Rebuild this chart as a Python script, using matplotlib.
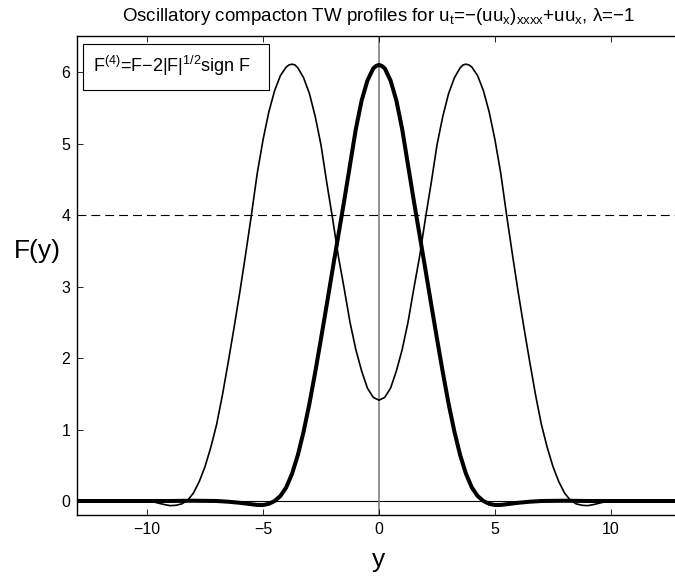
import numpy as np
import matplotlib
matplotlib.use("Agg")
import matplotlib.pyplot as plt
from matplotlib.patches import Rectangle

plt.rcParams['font.family'] = ['Liberation Sans', 'DejaVu Sans']
plt.rcParams['mathtext.fontset'] = 'custom'
plt.rcParams['mathtext.rm'] = 'Liberation Sans'
plt.rcParams['mathtext.it'] = 'Liberation Sans'
plt.rcParams['mathtext.default'] = 'regular'

# ---- data (right half, profiles are symmetric in y) ----
y_thick = [0.0, 0.125, 0.25, 0.5, 0.75, 1.0, 1.25, 1.5, 1.75, 2.0, 2.25, 2.5, 2.75,
           3.0, 3.25, 3.5, 3.75, 4.0, 4.25, 4.5, 4.75, 5.0, 5.25, 5.5, 5.75,
           6.0, 6.5, 7.0, 8.0, 9.0, 10.0, 11.0, 12.0, 13.0]
F_thick = [6.10, 6.085, 6.05, 5.88, 5.60, 5.20, 4.70, 4.20, 3.72, 3.24, 2.75, 2.27, 1.80,
           1.36, 0.97, 0.64, 0.38, 0.19, 0.07, 0.00, -0.04, -0.056, -0.055, -0.045, -0.035,
           -0.025, -0.01, 0.0, 0.004, 0.0, 0.0, 0.0, 0.0, 0.0]

y_thin = [0.0, 0.25, 0.5, 0.75, 1.0, 1.25, 1.5, 1.75, 2.0, 2.25, 2.5, 2.75,
          3.0, 3.25, 3.5, 3.625, 3.75, 3.875, 4.0, 4.25, 4.5, 4.75, 5.0, 5.25, 5.5, 5.75,
          6.0, 6.25, 6.5, 6.75, 7.0, 7.25, 7.5, 7.75, 8.0, 8.25,
          8.5, 8.75, 9.0, 9.25, 9.5, 9.75, 10.0, 11.0, 12.0, 13.0]
F_thin = [1.41, 1.45, 1.58, 1.82, 2.12, 2.50, 2.97, 3.42, 3.95, 4.45, 4.98, 5.38,
          5.70, 5.92, 6.06, 6.10, 6.11, 6.10, 6.07, 5.95, 5.74, 5.44, 5.05, 4.58, 4.00, 3.45,
          2.92, 2.42, 1.94, 1.48, 1.07, 0.75, 0.48, 0.27, 0.11, 0.01,
          -0.04, -0.06, -0.065, -0.05, -0.03, -0.01, 0.0, 0.0, 0.0, 0.0]

dashed_level = 4.0
x_ticks = [-10, -5, 0, 5, 10]
y_ticks = [0, 1, 2, 3, 4, 5, 6]

title_text = (r"Oscillatory compacton TW profiles for u$_t$=$-$(uu$_x$)$_{xxxx}$"
              r"+uu$_x$, $\lambda$=$-$1")
legend_text = r"F$^{(4)}$=F$-$2|F|$^{1/2}$sign F"


def mirror(xs, fs):
    xs = np.asarray(xs, float)
    fs = np.asarray(fs, float)
    return (np.concatenate([-xs[:0:-1], xs]),
            np.concatenate([fs[:0:-1], fs]))


W, H = 675, 579
fig = plt.figure(figsize=(W / 100, H / 100), dpi=100)
ax_left, ax_right = 77.4, 680.6
ax_top, ax_bot = 36.3, 515.3
ax = fig.add_axes([ax_left / W, 1 - ax_bot / H,
                   (ax_right - ax_left) / W, (ax_bot - ax_top) / H])

ax.set_xlim(-13, 13)
ax.set_ylim(-0.2, 6.5)

ax.axhline(0, color='black', lw=0.8, zorder=1)
ax.axvline(0, color='#808080', lw=1.2, zorder=1)
ax.axhline(dashed_level, color='black', lw=0.8, ls=(0, (8, 4.5)), zorder=1)

xt, ft = mirror(y_thin, F_thin)
ax.plot(xt, ft, color='black', lw=1.2, zorder=2)
xk, fk = mirror(y_thick, F_thick)
ax.plot(xk, fk, color='black', lw=2.9, zorder=3, solid_joinstyle='round')

ax.set_xticks(x_ticks)
ax.set_yticks(y_ticks)
ax.tick_params(direction='in', length=4, width=0.6, top=True, right=True,
               labelsize=11.5, pad=5)
for s in ax.spines.values():
    s.set_linewidth(1.0)
ax.spines['right'].set_visible(False)

# legend-like box
ax.add_patch(Rectangle((0.0088, 0.888), 0.3094, 0.096, transform=ax.transAxes,
                       facecolor='white', edgecolor='black', lw=0.8, zorder=5))
ax.text(0.0264, 0.926, legend_text, transform=ax.transAxes, fontsize=13,
        va='baseline', ha='left', zorder=6)

fig.text(379 / W, 1 - 21 / H, title_text, ha='center', va='baseline', fontsize=13.5)
fig.text(379 / W, 1 - 560 / H, 'y', ha='center', va='center', fontsize=19)
fig.text(37 / W, 1 - 251 / H, 'F(y)', ha='center', va='center', fontsize=19)

fig.savefig('out.png', dpi=100)
